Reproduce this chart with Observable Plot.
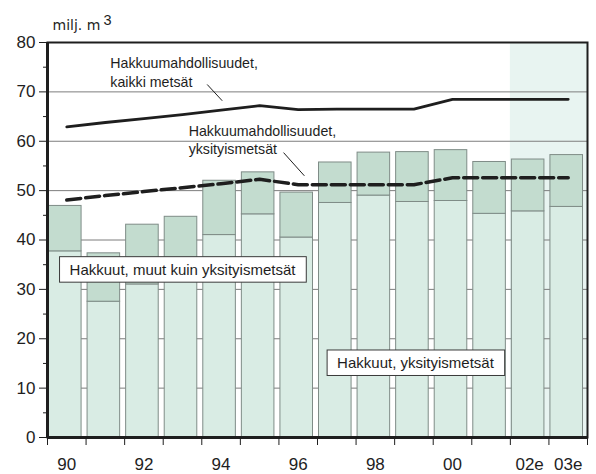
<!DOCTYPE html>
<html><head><meta charset="utf-8">
<script src="https://cdn.jsdelivr.net/npm/d3@7"></script>
<script src="https://cdn.jsdelivr.net/npm/@observablehq/plot@0.6"></script>
<style>body{margin:0;background:#fff}</style>
</head><body><div id="chart"></div>
<script>
// ---- data ----
const years = ["90","91","92","93","94","95","96","97","98","99","00","01","02e","03e"];
const cutsPrivate = [37.7, 27.5, 31.0, 34.5, 41.0, 45.2, 40.5, 47.5, 49.0, 47.7, 47.9, 45.3, 45.8, 46.7];
const cutsTotal   = [46.9, 37.3, 43.1, 44.7, 52.0, 53.7, 49.6, 55.7, 57.7, 57.8, 58.2, 55.8, 56.3, 57.2];
const potentialAll     = [62.9, 63.8, 64.6, 65.4, 66.3, 67.2, 66.4, 66.5, 66.5, 66.5, 68.5, 68.5, 68.5, 68.5];
const potentialPrivate = [48.1, 49.0, 49.8, 50.6, 51.4, 52.3, 51.2, 51.2, 51.2, 51.2, 52.6, 52.6, 52.6, 52.6];
const xTickLabels = ["90","92","94","96","98","00","02e","03e"];
const yTicks = [0,10,20,30,40,50,60,70,80];
const yMinorTicks = [5,15,25,35,45,55,65,75];
const unitText = "milj. m";
const unitSup = "3";
const labelAll = "Hakkuumahdollisuudet,\nkaikki metsät";
const labelPrivate = "Hakkuumahdollisuudet,\nyksityismetsät";
const labelOtherCuts = "Hakkuut, muut kuin yksityismetsät";
const labelPrivateCuts = "Hakkuut, yksityismetsät";

// ---- table ----
const rows = years.map((label, i) => ({
  label, i,
  priv: cutsPrivate[i], total: cutsTotal[i],
  all: potentialAll[i], privPot: potentialPrivate[i],
  forecast: label.endsWith("e")
}));
const boundaries = years.map((_, i) => i - 0.5).concat([years.length - 0.5]);
const labelIdx = xTickLabels.map(l => years.indexOf(l));
const forecastRows = rows.filter(d => d.forecast);
const fx1 = d3.min(forecastRows, d => d.i) - 0.5;
const fx2 = d3.max(forecastRows, d => d.i) + 0.5;

const ink = "#1e1e1e";
const font = "Liberation Sans, Arial, sans-serif";

const chart = Plot.plot({
  width: 596, height: 474,
  marginLeft: 47, marginRight: 9, marginTop: 42, marginBottom: 37,
  style: {fontFamily: font, fontSize: "17px", color: ink, background: "#fff"},
  x: {domain: [-0.5, years.length - 0.5], axis: null},
  y: {domain: [0, 80], axis: null, label: null},
  marks: [
    // forecast shading
    Plot.rect([0], {x1: fx1, x2: fx2, y1: 0, y2: 80, fill: "#e8f4f1"}),
    // grid
    Plot.ruleY(yTicks.filter(v => v > 0 && v < 80), {stroke: "#7d7d7d", strokeWidth: 1}),
    // bars: private (bottom)
    Plot.rectY(rows, {x1: d => d.i - 0.5, x2: d => d.i + 0.5, y1: 0, y2: "priv",
      insetLeft: 1.5, insetRight: 4.5, fill: "#d9ece4", stroke: "#7f8c87", strokeWidth: 1}),
    // bars: other (top)
    Plot.rectY(rows, {x1: d => d.i - 0.5, x2: d => d.i + 0.5, y1: "priv", y2: "total",
      insetLeft: 1.5, insetRight: 4.5, fill: "#c3dccf", stroke: "#7f8c87", strokeWidth: 1}),
    // lines
    Plot.line(rows, {x: "i", y: "all", stroke: ink, strokeWidth: 2.8}),
    Plot.line(rows, {x: "i", y: "privPot", stroke: ink, strokeWidth: 3.5, strokeDasharray: "14,5"}),
    // frame
    Plot.frame({stroke: ink, strokeWidth: 2}),
    Plot.ruleX([-0.5], {stroke: ink, strokeWidth: 3}),
    Plot.ruleY([0], {stroke: ink, strokeWidth: 3}),
    // axes
    Plot.axisY(yTicks, {tickSize: 8, tickPadding: 4, fontSize: 17, stroke: ink, fill: ink, label: null}),
    Plot.axisY(yMinorTicks, {tickSize: 4, tickFormat: () => "", stroke: ink, label: null}),
    Plot.axisX(boundaries, {tickSize: 8, tickFormat: () => "", stroke: ink, label: null}),
    Plot.axisX(labelIdx, {tickSize: 0, tickPadding: 20, tickFormat: i => years[i], fontSize: 17, fill: ink, label: null}),
    // unit label
    Plot.text([unitText], {frameAnchor: "top-left", text: d => d, textAnchor: "start", lineAnchor: "bottom",
      dx: 5, dy: -12.5, fontSize: 14, fontFamily: "DejaVu Sans, sans-serif", fill: ink}),
    Plot.text([unitSup], {frameAnchor: "top-left", text: d => d, textAnchor: "start", lineAnchor: "bottom",
      dx: 56, dy: -18, fontSize: 14.5, fill: ink}),
    // line annotations
    Plot.text([labelAll], {x: 1.13, y: 74.1, text: d => d, textAnchor: "start", lineAnchor: "middle",
      lineHeight: 1.3, fontSize: 14.2, fill: ink}),
    Plot.link([0], {x1: 3.64, y1: 71.5, x2: 4.03, y2: 68.2, stroke: ink, strokeWidth: 1}),
    Plot.text([labelPrivate], {x: 3.16, y: 60.4, text: d => d, textAnchor: "start", lineAnchor: "middle",
      lineHeight: 1.3, fontSize: 14.2, fill: ink}),
    Plot.link([0], {x1: 5.62, y1: 57.7, x2: 6.16, y2: 53.0, stroke: ink, strokeWidth: 1}),
    // boxed labels
    Plot.text([labelOtherCuts], {x: 3.0, y: 33.9, text: d => d, textAnchor: "middle", lineAnchor: "middle",
      fontSize: 15, fill: ink}),
    Plot.text([labelPrivateCuts], {x: 9.04, y: 15.0, text: d => d, textAnchor: "middle", lineAnchor: "middle",
      fontSize: 15, fill: ink})
  ]
});

document.getElementById("chart").appendChild(chart);

// white boxes behind boxed labels
const boxed = new Set([labelOtherCuts, labelPrivateCuts]);
Array.from(chart.querySelectorAll("text")).filter(t => boxed.has(t.textContent)).forEach(t => {
  const bb = t.getBBox();
  const r = document.createElementNS("http://www.w3.org/2000/svg", "rect");
  const padX = 10, h = 25.5;
  r.setAttribute("x", bb.x - padX);
  r.setAttribute("y", bb.y + bb.height / 2 - h / 2);
  r.setAttribute("width", bb.width + 2 * padX);
  r.setAttribute("height", h);
  r.setAttribute("fill", "#fff");
  r.setAttribute("stroke", "#3a3a3a");
  r.setAttribute("stroke-width", "1");
  const tr = t.getAttribute("transform");
  if (tr) r.setAttribute("transform", tr);
  t.parentNode.insertBefore(r, t);
});
</script>
</body></html>
